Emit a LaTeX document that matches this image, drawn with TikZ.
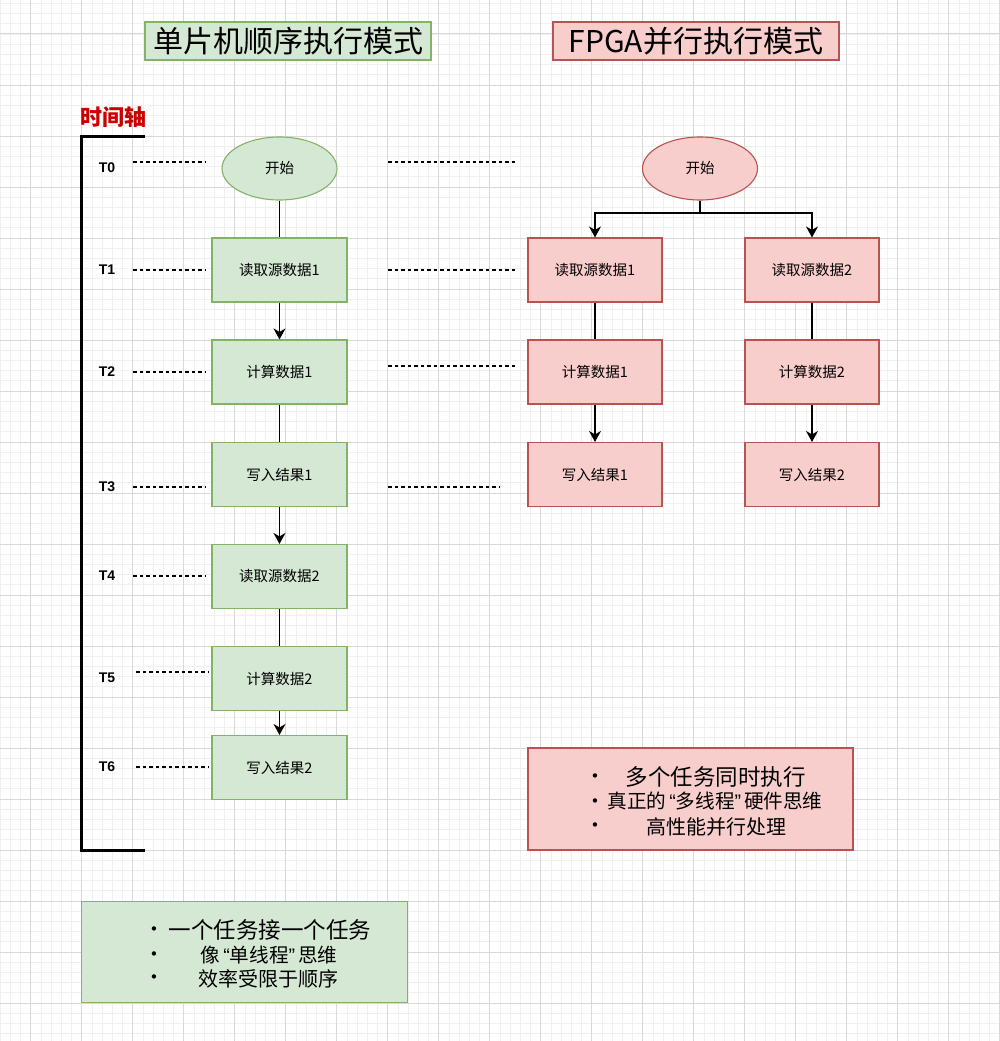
\documentclass[tikz,border=0pt]{standalone}
\usepackage{fontspec}
\setmainfont{Noto Sans CJK SC}
\newfontfamily\latf{Liberation Sans}
\newfontfamily\dejavu{DejaVu Sans}
\usetikzlibrary{arrows.meta,shapes.geometric}
\definecolor{gfill}{HTML}{D5E8D4}
\definecolor{gline}{HTML}{82B366}
\definecolor{rfill}{HTML}{F8CECC}
\definecolor{rline}{HTML}{B85450}
\definecolor{axred}{HTML}{CC0000}
\definecolor{majgrid}{HTML}{D9D9D9}
\definecolor{mingrid}{HTML}{F0F0F0}
\newcommand{\myLq}{\hspace{3pt}{\latf “}}
\newcommand{\myRq}{{\latf ”}\hspace{3pt}}
\tikzset{
  fsz/.style={font=\fontsize{#1}{#1}\selectfont},
  gbox/.style={draw=gline, fill=gfill, line width=1.1pt, minimum width=135pt, minimum height=64pt, inner sep=0pt, fsz=14.5},
  rbox/.style={draw=rline, fill=rfill, line width=1.1pt, minimum width=134pt, minimum height=64pt, inner sep=0pt, fsz=14.5},
  gell/.style={ellipse, draw=gline, fill=gfill, line width=1.1pt, minimum width=115pt, minimum height=63pt, inner sep=0pt, fsz=14.5},
  rell/.style={ellipse, draw=rline, fill=rfill, line width=1.1pt, minimum width=115pt, minimum height=63pt, inner sep=0pt, fsz=14.5},
  tlabel/.style={font=\latf\bfseries\fontsize{14}{14}\selectfont, inner sep=0pt},
  tdash/.style={dash pattern=on 3.5pt off 3pt, line width=1.1pt},
  conn/.style={line width=1.2pt},
  arr/.style={conn, -{Stealth[length=11pt,width=12pt,inset=3.5pt]}},
  axis/.style={line width=3pt},
  bul/.style={font=\dejavu\fontsize{15}{15}\selectfont, inner sep=0pt},
}
\begin{document}
\begin{tikzpicture}[x=1pt,y=-1pt]
\useasboundingbox (0,0) rectangle (999,1041);
\fill[white] (0,0) rectangle (999,1041);
% grid
\foreach \k in {0,...,97} {\draw[mingrid, line width=0.8pt] (0.1+10.2*\k,0) -- (0.1+10.2*\k,1041);}
\foreach \k in {0,...,101} {\draw[mingrid, line width=0.8pt] (0,3.4+10.2*\k) -- (999,3.4+10.2*\k);}
\foreach \k in {0,...,19} {\draw[majgrid, line width=1pt] (30.7+51*\k,0) -- (30.7+51*\k,1041);}
\foreach \k in {0,...,20} {\draw[majgrid, line width=1pt] (0,34+51*\k) -- (999,34+51*\k);}

% titles
\node[draw=gline, fill=gfill, line width=1.1pt, minimum width=286pt, minimum height=38pt, inner sep=0pt, fsz=30] (tl) at (288,41) {单片机顺序执行模式};
\node[draw=rline, fill=rfill, line width=1.1pt, minimum width=286pt, minimum height=38pt, inner sep=0pt, fsz=30] (tr) at (696,41) {FPGA并行执行模式};

% time axis
\node[text=axred, font=\bfseries\fontsize{22}{22}\selectfont, inner sep=0pt] (axt) at (113,117) {时间轴};
\coordinate (ax1) at (145,136);
\coordinate (ax2) at (81,136);
\coordinate (ax3) at (81,850);
\coordinate (ax4) at (145,850);
\draw[axis] (ax1) -- (ax2) -- (ax3) -- (ax4);

% T labels
\node[tlabel] (t0) at (107,168) {T0};
\node[tlabel] (t1) at (107,270) {T1};
\node[tlabel] (t2) at (107,372) {T2};
\node[tlabel] (t3) at (107,487) {T3};
\node[tlabel] (t4) at (107,576) {T4};
\node[tlabel] (t5) at (107,678) {T5};
\node[tlabel] (t6) at (107,767) {T6};

% left dashed guides
\coordinate (d0a) at (133,162); \coordinate (d0b) at (206,162);
\coordinate (d1a) at (133,270); \coordinate (d1b) at (206,270);
\coordinate (d2a) at (133,372); \coordinate (d2b) at (206,372);
\coordinate (d3a) at (133,487); \coordinate (d3b) at (206,487);
\coordinate (d4a) at (133,576); \coordinate (d4b) at (206,576);
\coordinate (d5a) at (136,672); \coordinate (d5b) at (209,672);
\coordinate (d6a) at (136,767); \coordinate (d6b) at (209,767);
\draw[tdash] (d0a) -- (d0b);
\draw[tdash] (d1a) -- (d1b);
\draw[tdash] (d2a) -- (d2b);
\draw[tdash] (d3a) -- (d3b);
\draw[tdash] (d4a) -- (d4b);
\draw[tdash] (d5a) -- (d5b);
\draw[tdash] (d6a) -- (d6b);
% right dashed guides
\coordinate (e0a) at (388,162); \coordinate (e0b) at (515,162);
\coordinate (e1a) at (388,270); \coordinate (e1b) at (515,270);
\coordinate (e2a) at (388,366); \coordinate (e2b) at (515,366);
\coordinate (e3a) at (388,487); \coordinate (e3b) at (499,487);
\draw[tdash] (e0a) -- (e0b);
\draw[tdash] (e1a) -- (e1b);
\draw[tdash] (e2a) -- (e2b);
\draw[tdash] (e3a) -- (e3b);

% left sequential column
\node[gell] (ls) at (279.5,168.5) {开始};
\node[gbox] (la1) at (279.5,270) {读取源数据1};
\node[gbox] (lb1) at (279.5,372) {计算数据1};
\node[gbox] (lc1) at (279.5,474.5) {写入结果1};
\node[gbox] (la2) at (279.5,576.5) {读取源数据2};
\node[gbox] (lb2) at (279.5,678.5) {计算数据2};
\node[gbox] (lc2) at (279.5,767.5) {写入结果2};
\draw[conn] (ls.south) -- (la1.north);
\draw[arr] (la1.south) -- (lb1.north);
\draw[conn] (lb1.south) -- (lc1.north);
\draw[arr] (lc1.south) -- (la2.north);
\draw[conn] (la2.south) -- (lb2.north);
\draw[arr] (lb2.south) -- (lc2.north);

% right parallel columns
\node[rell] (rs) at (700,168.5) {开始};
\node[rbox] (ra1) at (595,270) {读取源数据1};
\node[rbox] (rb1) at (595,372) {计算数据1};
\node[rbox] (rc1) at (595,474.5) {写入结果1};
\node[rbox] (ra2) at (812,270) {读取源数据2};
\node[rbox] (rb2) at (812,372) {计算数据2};
\node[rbox] (rc2) at (812,474.5) {写入结果2};
\coordinate (fork) at (700,213);
\draw[arr] (rs.south) -- (fork) -| (ra1.north);
\draw[arr] (fork) -| (ra2.north);
\draw[conn] (ra1.south) -- (rb1.north);
\draw[arr] (rb1.south) -- (rc1.north);
\draw[conn] (ra2.south) -- (rb2.north);
\draw[arr] (rb2.south) -- (rc2.north);

% summary boxes
\node[draw=rline, fill=rfill, line width=1.1pt, minimum width=325pt, minimum height=102pt, inner sep=0pt] (rsum) at (690.5,799) {};
\node[bul] (rb1d) at (595,778) {•};
\node[bul] (rb2d) at (595,803) {•};
\node[bul] (rb3d) at (595,827) {•};
\node[fsz=22.5, inner sep=0pt] (rl1) at (715.5,776.5) {多个任务同时执行};
\node[fsz=19.6, inner sep=0pt] (rl2) at (715,801.5) {真正的\myLq 多线程\myRq 硬件思维};
\node[fsz=20, inner sep=0pt] (rl3) at (716,826.5) {高性能并行处理};

\node[draw=gline, fill=gfill, line width=1.1pt, minimum width=326pt, minimum height=101pt, inner sep=0pt] (lsum) at (244.7,952.3) {};
\node[bul] (lb1d) at (154,930.5) {•};
\node[bul] (lb2d) at (154,955.5) {•};
\node[bul] (lb3d) at (154,979) {•};
\node[fsz=22.5, inner sep=0pt] (ll1) at (270,930) {一个任务接一个任务};
\node[fsz=19.6, inner sep=0pt] (ll2) at (269,955) {像\myLq 单线程\myRq 思维};
\node[fsz=20, inner sep=0pt] (ll3) at (268.5,979) {效率受限于顺序};
\end{tikzpicture}
\end{document}
